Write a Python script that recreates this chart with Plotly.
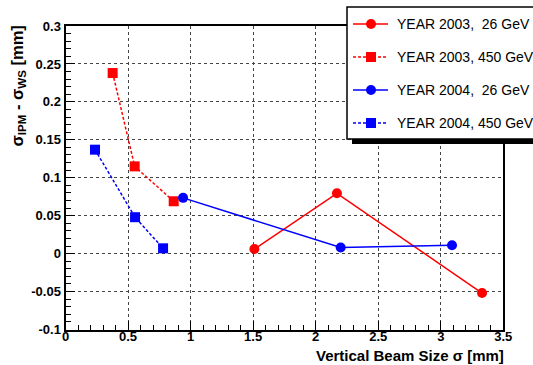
import plotly.graph_objects as go

# ---- data ----
x_2003_26 = [1.51, 2.17, 3.33]
y_2003_26 = [0.006, 0.0795, -0.052]
x_2003_450 = [0.377, 0.553, 0.865]
y_2003_450 = [0.238, 0.115, 0.069]
x_2004_26 = [0.94, 2.20, 3.09]
y_2004_26 = [0.0735, 0.008, 0.011]
x_2004_450 = [0.236, 0.556, 0.78]
y_2004_450 = [0.137, 0.048, 0.007]

series_names = ["YEAR 2003,\u00a0 26 GeV", "YEAR 2003, 450 GeV",
                "YEAR 2004,\u00a0 26 GeV", "YEAR 2004, 450 GeV"]

x_tickvals = [0, 0.5, 1, 1.5, 2, 2.5, 3, 3.5]
x_ticktext = ["0", "0.5", "1", "1.5", "2", "2.5", "3", "3.5"]
y_tickvals = [-0.1, -0.05, 0, 0.05, 0.1, 0.15, 0.2, 0.25, 0.3]
y_ticktext = ["-0.1", "-0.05", "0", "0.05", "0.1", "0.15", "0.2", "0.25", "0.3"]

W, H = 533, 365
RED, BLUE = "#ff0000", "#0000ff"
DASH = "3px,2px"

def px(v):
    return v / W

def py(v):
    return 1 - v / H

styles = [
    dict(color=RED, dash="solid", symbol="circle"),
    dict(color=RED, dash=DASH, symbol="square"),
    dict(color=BLUE, dash="solid", symbol="circle"),
    dict(color=BLUE, dash=DASH, symbol="square"),
]
data_sets = [(x_2003_26, y_2003_26), (x_2003_450, y_2003_450),
             (x_2004_26, y_2004_26), (x_2004_450, y_2004_450)]

fig = go.Figure()
for (xs, ys), st, name in zip(data_sets, styles, series_names):
    fig.add_trace(go.Scatter(
        x=xs, y=ys, mode="lines+markers", name=name,
        line=dict(color=st["color"], width=1.5, dash=st["dash"]),
        marker=dict(color=st["color"], size=10, symbol=st["symbol"]),
        showlegend=False, cliponaxis=False))

tickfont = dict(family="Liberation Sans, Arial", size=13, color="black", weight="bold")
axis_common = dict(
    automargin=False,
    showline=True, linecolor="black", linewidth=2, mirror=True,
    ticks="inside", ticklen=9, tickwidth=1, tickcolor="black",
    showgrid=True, gridcolor="#444444", gridwidth=1, griddash="dot",
    zeroline=False, tickfont=tickfont,
)

fig.update_layout(
    template="none",
    width=W, height=H,
    margin=dict(l=0, r=0, t=0, b=0, pad=0),
    paper_bgcolor="white", plot_bgcolor="white",
    xaxis=dict(domain=[px(65.5), px(503.3)], range=[0, 3.5],
               tickmode="array", tickvals=x_tickvals, ticktext=x_ticktext,
               ticklabelstandoff=-6,
               minor=dict(dtick=0.1, tick0=0, ticks="inside", ticklen=5,
                          tickcolor="black", showgrid=False),
               **axis_common),
    yaxis=dict(domain=[py(329.5), py(26)], range=[-0.1, 0.3],
               tickmode="array", tickvals=y_tickvals, ticktext=y_ticktext,
               minor=dict(dtick=0.01, tick0=0, ticks="inside", ticklen=5,
                          tickcolor="black", showgrid=False),
               **axis_common),
    showlegend=False,
)

# axis titles
fig.add_annotation(text="Vertical Beam Size σ [mm]", xref="paper", yref="paper",
                   x=px(506), y=py(355), xanchor="right", yanchor="middle",
                   showarrow=False,
                   font=dict(family="Liberation Sans, Arial", size=15, color="black", weight="bold"))
fig.add_annotation(text="σ<sub>IPM</sub> - σ<sub>WS</sub> [mm]", xref="paper", yref="paper",
                   x=px(18), y=py(24), xanchor="center", yanchor="top", textangle=-90,
                   showarrow=False,
                   font=dict(family="Liberation Sans, Arial", size=16.5, color="black", weight="bold"))

# legend box (ROOT style with shadow)
lx0, ly0, lx1, ly1 = 347, 7, 545, 139
fig.add_shape(type="rect", xref="paper", yref="paper",
              x0=px(lx0 + 5), x1=px(lx1 + 5), y0=py(ly1 + 5), y1=py(ly0 + 5),
              fillcolor="black", line=dict(width=0), layer="above")
fig.add_shape(type="rect", xref="paper", yref="paper",
              x0=px(lx0), x1=px(lx1), y0=py(ly1), y1=py(ly0),
              fillcolor="white", line=dict(color="black", width=1.5), layer="above")

entry_y = [24, 57, 90, 123]
for ey, st, name in zip(entry_y, styles, series_names):
    fig.add_shape(type="line", xref="paper", yref="paper",
                  x0=px(353), x1=px(388), y0=py(ey), y1=py(ey),
                  line=dict(color=st["color"], width=1.5, dash=st["dash"]), layer="above")
    r = 5
    if st["symbol"] == "circle":
        fig.add_shape(type="circle", xref="paper", yref="paper",
                      x0=px(371 - r), x1=px(371 + r), y0=py(ey + r), y1=py(ey - r),
                      fillcolor=st["color"], line=dict(width=0), layer="above")
    else:
        fig.add_shape(type="rect", xref="paper", yref="paper",
                      x0=px(371 - r), x1=px(371 + r), y0=py(ey + r), y1=py(ey - r),
                      fillcolor=st["color"], line=dict(width=0), layer="above")
    fig.add_annotation(text=name, xref="paper", yref="paper",
                       x=px(395), y=py(ey), xanchor="left", yanchor="middle",
                       showarrow=False,
                       font=dict(family="Liberation Sans, Arial", size=14, color="black"))

fig.write_html("out.html",
               config={"displayModeBar": False},
               post_script="document.body.style.margin='0';document.body.style.overflow='hidden';")
